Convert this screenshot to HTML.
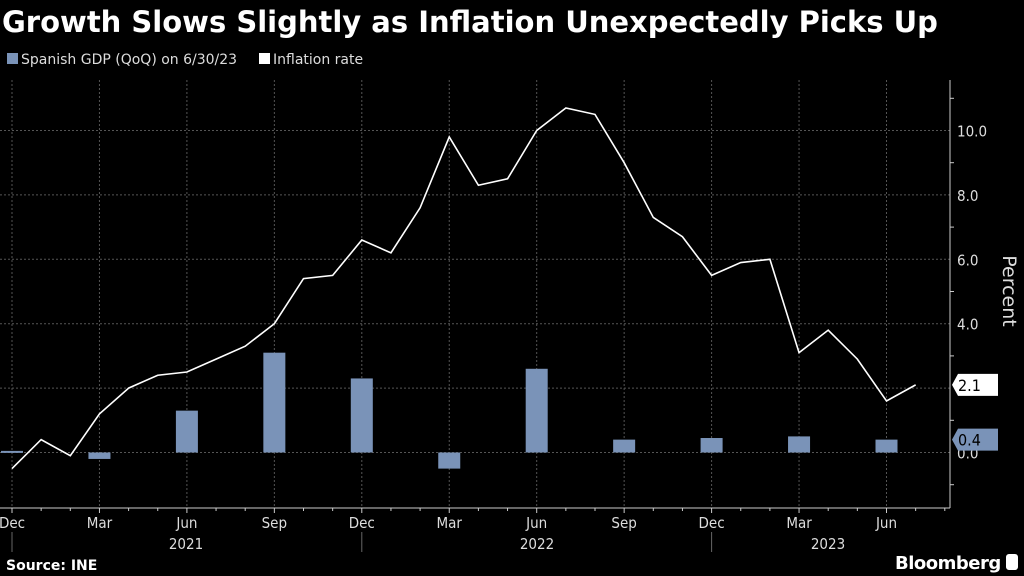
<!DOCTYPE html>
<html><head><meta charset="utf-8"><style>
body{margin:0;background:#000;width:1024px;height:576px;overflow:hidden;font-family:"Liberation Sans",sans-serif;}
</style></head><body>
<svg width="1024" height="576" style="position:absolute;left:0;top:0">
<text x="2" y="32" fill="#fff" font-size="29" font-weight="bold" font-family="DejaVu Sans, Liberation Sans, sans-serif">Growth Slows Slightly as Inflation Unexpectedly Picks Up</text>
<g>
<rect x="7" y="53" width="11" height="11" fill="#7a93b8"/>
<text x="21" y="64" fill="#ddd" font-size="14" font-family="DejaVu Sans, sans-serif">Spanish GDP (QoQ) on 6/30/23</text>
<rect x="259" y="53" width="11" height="11" fill="#fff"/>
<text x="273" y="64" fill="#ddd" font-size="14" font-family="DejaVu Sans, sans-serif">Inflation rate</text>
</g>
<g id="grid"></g><g id="bars"></g><g id="line"></g><g id="axes"></g>
<text x="1003" y="291" fill="#ddd" font-size="19" font-family="DejaVu Sans, sans-serif" transform="rotate(90 1003 291)" text-anchor="middle">Percent</text>
<text x="6" y="570" fill="#fff" font-size="14" font-weight="bold" font-family="DejaVu Sans, sans-serif">Source: INE</text>
<text x="895" y="569" fill="#fff" font-size="18" font-weight="bold" text-anchor="start" font-family="DejaVu Sans, sans-serif" letter-spacing="-0.5">Bloomberg</text>
<rect x="1006" y="554" width="12" height="16" rx="3" fill="#fff"/>
</svg>
<script>
const inflation=[-0.5,0.4,-0.1,1.2,2.0,2.4,2.5,2.9,3.3,4.0,5.4,5.5,6.6,6.2,7.6,9.8,8.3,8.5,10.0,10.7,10.5,9.0,7.3,6.7,5.5,5.9,6.0,3.1,3.8,2.9,1.6,2.1];
const gdpMonths=[0,3,6,9,12,15,18,21,24,27,30];
const gdpValues=[0.05,-0.2,1.3,3.1,2.3,-0.5,2.6,0.4,0.45,0.5,0.4];
const yTicks=[0,2,4,6,8,10];
const yTickLabels=["0.0","","4.0","6.0","8.0","10.0"];
const monthLabels=["Dec","Mar","Jun","Sep","Dec","Mar","Jun","Sep","Dec","Mar","Jun"];
const years=[["2021",186],["2022",537],["2023",828]];
const NS="http://www.w3.org/2000/svg";
const X=m=>12+m*29.15, Y=v=>452.5-32.2*v;
const PR=950,PT=80,PB=508;
function mk(p,t,a){const e=document.createElementNS(NS,t);for(const k in a)e.setAttribute(k,a[k]);document.getElementById(p).appendChild(e);return e;}
for(const v of [0,2,4,6,8,10]){const e=mk('grid','line',{x1:0,x2:PR,y1:Y(v),y2:Y(v),stroke:'#555','stroke-dasharray':'2,2','stroke-width':1});

}
for(let m=0;m<=30;m+=3){const e=mk('grid','line',{x1:X(m),x2:X(m),y1:PT,y2:PB,stroke:'#555','stroke-dasharray':'2,2','stroke-width':1});

}
gdpMonths.forEach((m,i)=>{const v=gdpValues[i];const y0=Y(0),y1=Y(v);const x=X(m)-11;
const e=mk('bars','rect',{x:Math.max(0,x),y:Math.min(y0,y1),width:22-(Math.max(0,x)-x),height:Math.max(2,Math.abs(y1-y0)),fill:'#7a93b8'});

});
const pl=mk('line','polyline',{points:inflation.map((v,i)=>X(i)+','+Y(v)).join(' '),fill:'none',stroke:'#fff','stroke-width':1.6});


let a=mk('axes','line',{x1:PR,x2:PR,y1:PT,y2:PB,stroke:'#ccc'});


a=mk('axes','line',{x1:0,x2:PR,y1:PB,y2:PB,stroke:'#ccc'});


yTicks.forEach((v,i)=>{const t=mk('axes','text',{x:957,y:Y(v)+6,fill:'#ddd','font-size':15,'font-family':'DejaVu Sans Condensed, DejaVu Sans, sans-serif'});t.textContent=yTickLabels[i];

});
for(let v=-1;v<=11;v+=2){const t=mk('axes','line',{x1:PR,x2:PR+4,y1:Y(v),y2:Y(v),stroke:'#ccc'});

}
for(let m=0;m<=32;m++){const t=mk('axes','line',{x1:X(m),x2:X(m),y1:PB,y2:PB+(m%3==0?5:3),stroke:'#ccc'});

}
monthLabels.forEach((l,i)=>{const t=mk('axes','text',{x:X(i*3),y:528,fill:'#ddd','font-size':15,'text-anchor':'middle','font-family':'DejaVu Sans Condensed, DejaVu Sans, sans-serif'});t.textContent=l;

});
[0,12,24].forEach(m=>{const t=mk('axes','line',{x1:X(m),x2:X(m),y1:532,y2:552,stroke:'#666'});

});
years.forEach(([l,x])=>{const t=mk('axes','text',{x:x,y:549,fill:'#ddd','font-size':15,'text-anchor':'middle','font-family':'DejaVu Sans Condensed, DejaVu Sans, sans-serif'});t.textContent=l;

});
function tag(v,bg,fg,name){const y=Y(v);const g=mk('axes','g',{});


const p=document.createElementNS(NS,'path');p.setAttribute('d',`M${PR+2},${y} L${PR+8},${y-11} H998 V${y+11} H${PR+8} Z`);p.setAttribute('fill',bg);g.appendChild(p);
const t=document.createElementNS(NS,'text');t.setAttribute('x',958);t.setAttribute('y',y+6);t.setAttribute('fill',fg);t.setAttribute('font-size',16);t.setAttribute('font-family','DejaVu Sans Condensed, DejaVu Sans, sans-serif');t.textContent=v.toFixed(1);g.appendChild(t);}
tag(inflation[inflation.length-1],'#fff','#000','inflation-value-tag');
tag(gdpValues[gdpValues.length-1],'#7a93b8','#000','gdp-value-tag');
</script>
</body></html>
